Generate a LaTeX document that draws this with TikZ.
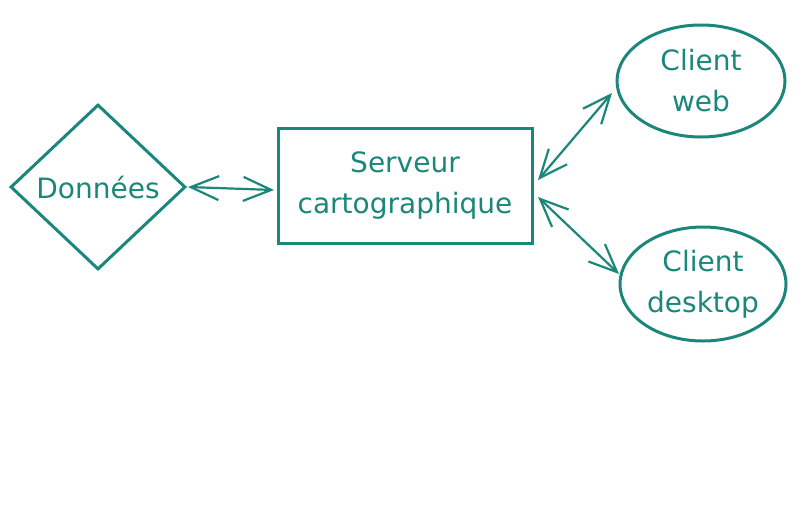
\documentclass[tikz,border=0pt]{standalone}
\usepackage{fontspec}
\setmainfont{DejaVu Sans}
\usetikzlibrary{shapes.geometric,arrows.meta}
\definecolor{teal1}{HTML}{1A877A}
\tikzset{
  shp/.style={draw=teal1, line width=3pt, text=teal1, align=center, font=\fontsize{28}{41}\selectfont, inner sep=0pt},
  link/.style={draw=teal1, line width=2.2pt, {Straight Barb[length=28pt,width=24pt,line width=2.2pt]}-{Straight Barb[length=28pt,width=24pt,line width=2.2pt]}}
}
\begin{document}
\begin{tikzpicture}[x=1pt,y=-1pt]
\useasboundingbox (0,0) rectangle (800,512);
\node[shp, diamond, minimum width=175pt, minimum height=165pt, aspect=1.06] (don) at (98,187) {Données};
\node[shp, rectangle, minimum width=254pt, minimum height=115pt] (srv) at (405,186) {\raisebox{0pt}{Serveur}\\cartographique};
\node[shp, ellipse, minimum width=168pt, minimum height=112pt] (web) at (701,81) {Client\\web};
\node[shp, ellipse, minimum width=166pt, minimum height=114pt] (desk) at (703,284) {Client\\desktop};
\coordinate (a1) at (188,187);
\coordinate (a2) at (274,190);
\coordinate (b1) at (538,180);
\coordinate (b2) at (612,93);
\coordinate (c1) at (538,197);
\coordinate (c2) at (619,274);
\draw[link] (a1) -- (a2);
\draw[link] (b1) -- (b2);
\draw[link] (c1) -- (c2);
\end{tikzpicture}
\end{document}
